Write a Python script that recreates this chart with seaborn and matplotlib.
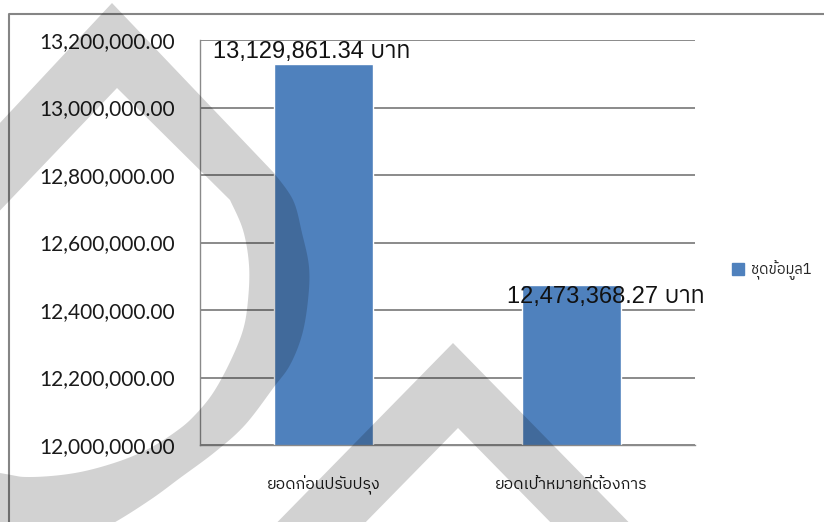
import numpy as np
import pandas as pd
import matplotlib
matplotlib.use("Agg")
import matplotlib.pyplot as plt
import seaborn as sns
from matplotlib import font_manager
from matplotlib.path import Path
from matplotlib.patches import PathPatch, Patch
from matplotlib.lines import Line2D

# ---- data -------------------------------------------------------------
categories = ["ยอดก่อนปรับปรุง", "ยอดเป้าหมายที่ต้องการ"]
values = [13129861.34, 12473368.27]
series_name = "ชุดข้อมูล1"
unit = "บาท"
y_ticks = [12000000, 12200000, 12400000, 12600000, 12800000, 13000000, 13200000]

# ---- fonts ------------------------------------------------------------
def find_thai_family():
    try:
        from fontTools.ttLib import TTFont
    except Exception:
        return None
    found = []
    for entry in font_manager.fontManager.ttflist:
        try:
            f = TTFont(entry.fname, fontNumber=0, lazy=True)
            cmap = f.getBestCmap() or {}
            if 0x0E1A in cmap and 0x0E32 in cmap and 0x0E17 in cmap:
                found.append(entry.name)
        except Exception:
            continue
    if not found:
        return None
    def rank(n):
        return (0 if "Thai" in n else 1, 0 if "Sans" in n else 1, n)
    return sorted(set(found), key=rank)[0]

sns.set_style("white")
THAI = find_thai_family() or "DejaVu Sans"
plt.rcParams["font.family"] = ["Liberation Sans", THAI, "DejaVu Sans"]

BAR = "#4F81BD"
GRID = "#8a8a8a"
W, H = 824, 522

def fx(x):
    return x / W

def fy(y):
    return 1 - y / H

fig = plt.figure(figsize=(W / 100, H / 100), dpi=100)
fig.patch.set_facecolor("white")

ax = fig.add_axes([fx(200), fy(445), (695 - 200) / W, (445 - 40) / H])

df = pd.DataFrame({"category": categories, "value": values,
                   "series": [series_name] * len(categories)})
sns.barplot(data=df, x="category", y="value", hue="series", palette=[BAR],
            width=0.4, saturation=1, errorbar=None, dodge=False,
            legend=False, ax=ax, zorder=2)

ax.set_xlim(-0.5, len(categories) - 0.5)
ax.set_ylim(y_ticks[0], y_ticks[-1])
ax.set_yticks(y_ticks)
ax.set_yticklabels([f"{v:,.2f}" for v in y_ticks], fontfamily="Lato",
                   fontsize=15, color="#1a1a1a")
ax.set_xlabel("")
ax.set_ylabel("")

ax.yaxis.grid(True, color=GRID, linewidth=1.4)
ax.xaxis.grid(False)
ax.set_axisbelow(True)
for side in ("top", "right"):
    ax.spines[side].set_visible(False)
for side in ("left", "bottom"):
    ax.spines[side].set_color(GRID)
    ax.spines[side].set_linewidth(1.0)

ax.tick_params(axis="y", direction="out", length=5, width=1, color=GRID, pad=13)
ax.set_xticks(range(len(categories)))
ax.set_xticklabels(categories, fontfamily=[THAI, "DejaVu Sans"], fontsize=11.5,
                   color="#1a1a1a")
ax.set_xticks(np.arange(-0.5, len(categories), 1.0), minor=True)
ax.tick_params(axis="x", which="major", length=0, pad=22)
ax.tick_params(axis="x", which="minor", direction="out", length=6, width=1,
               color=GRID)

# value labels above / across the bar tops
label_offsets = [(-79.7, 4.3), (-46.3, -13.0)]
for i, v in enumerate(values):
    ax.annotate(f"{v:,.2f} {unit}", xy=(i, v), xytext=label_offsets[i],
                textcoords="offset points", ha="left", va="baseline",
                fontsize=17, family=["Liberation Sans", THAI], color="#111111",
                zorder=5)

fig.legend(handles=[Patch(facecolor=BAR, edgecolor=BAR)], labels=[series_name],
           loc="center left", bbox_to_anchor=(fx(732), fy(270)),
           frameon=False, handlelength=0.85, handleheight=0.85,
           handletextpad=0.45, borderpad=0, borderaxespad=0,
           prop={"family": [THAI, "DejaVu Sans"], "size": 10.5})

# chart frame
fig.add_artist(Line2D([fx(9), fx(9), fx(830)], [fy(530), fy(13.5), fy(13.5)],
                      transform=fig.transFigure, color="#858585", linewidth=1.5))

# ---- background emblem -----------------------------------------------
def catmull(points, n=10):
    p = np.asarray(points, float)
    p = np.vstack([p[0], p, p[-1]])
    out = []
    for i in range(1, len(p) - 2):
        p0, p1, p2, p3 = p[i - 1], p[i], p[i + 1], p[i + 2]
        for t in np.linspace(0, 1, n, endpoint=False):
            t2, t3 = t * t, t * t * t
            out.append(0.5 * (2 * p1 + (-p0 + p2) * t
                              + (2 * p0 - 5 * p1 + 4 * p2 - p3) * t2
                              + (-p0 + 3 * p1 - 3 * p2 + p3) * t3))
    out.append(p[-2])
    return np.array(out)

def area(pts):
    x, y = pts[:, 0], pts[:, 1]
    return 0.5 * np.sum(x * np.roll(y, -1) - np.roll(x, -1) * y)

def to_fig(pts):
    pts = np.asarray(pts, float)
    return np.column_stack([pts[:, 0] / W, 1 - pts[:, 1] / H])

def compound(rings):
    verts, codes = [], []
    ref = None
    for k, r in enumerate(rings):
        r = to_fig(r)
        a = area(r)
        if k == 0:
            ref = np.sign(a)
        elif np.sign(a) == ref:
            r = r[::-1]
        verts.extend(r.tolist())
        verts.append(r[0].tolist())
        codes.extend([Path.MOVETO] + [Path.LINETO] * (len(r) - 1) + [Path.CLOSEPOLY])
    return Path(verts, codes)

outer_curve = [(274, 173), (293, 200), (302, 233), (309, 267), (308, 300),
               (302, 335), (290, 365), (274, 387), (245, 425), (215, 452),
               (180, 478), (150, 500), (110, 525), (60, 550), (0, 570),
               (-100, 600)]
outer = np.vstack([[(112, 3)], catmull(outer_curve), [(-300, 620), (-300, 444)]])

inner_curve = [(230, 200), (243, 230), (249, 265), (248, 300), (243, 330),
               (230, 362), (213, 393), (195, 415), (178, 430), (150, 448),
               (117, 462), (75, 473), (30, 477), (0, 473), (-100, 455),
               (-200, 420)]
inner = np.vstack([[(117, 88)], catmull(inner_curve)])

drop = compound([outer, inner])
fig.add_artist(PathPatch(drop, transform=fig.transFigure, facecolor="black",
                         edgecolor="none", alpha=0.175, zorder=10))

def chevron(ax_, ay_, depth, slope, ybot):
    ix, iy = ax_ + 5, ay_ + depth
    pts = [(ax_, ay_),
           (ax_ + (ybot - ay_) / slope, ybot),
           (ix + (ybot - iy) / slope, ybot),
           (ix, iy),
           (ix - (ybot - iy) / slope, ybot),
           (ax_ - (ybot - ay_) / slope, ybot)]
    return np.array(pts, float)

chev = chevron(453, 343, 85, 1.02, 560)
fig.add_artist(PathPatch(compound([chev]), transform=fig.transFigure,
                         facecolor="black", edgecolor="none", alpha=0.175,
                         zorder=10))

fig.savefig("out.png", dpi=100, facecolor="white")
